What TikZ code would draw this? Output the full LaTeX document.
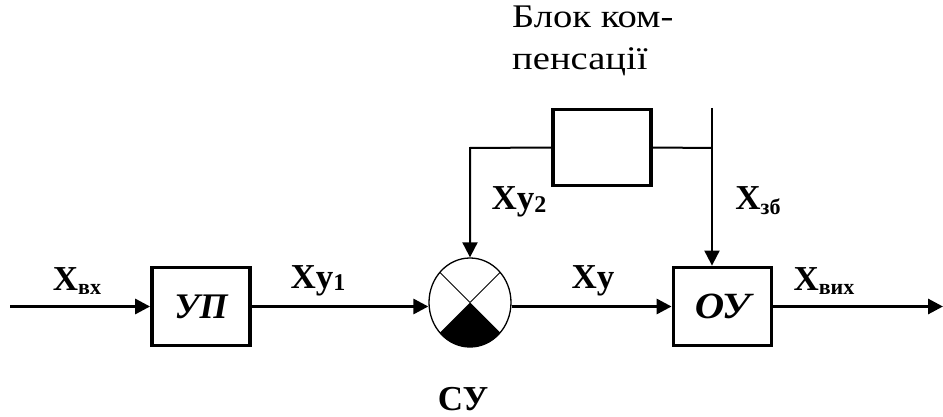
\documentclass[tikz,border=0pt]{standalone}
\usepackage{fontspec}
\setmainfont{Liberation Serif}
\usetikzlibrary{arrows.meta,shapes.geometric}
\begin{document}
\begin{tikzpicture}[x=1pt,y=-1pt,
  blk/.style={draw,line width=3.8pt,minimum width=98pt,minimum height=78pt,inner sep=0pt},
  conn/.style={line width=3pt},
  thin/.style={line width=2pt},
  arr/.style={-{Triangle[length=15pt,width=15pt]}},
  lbl/.style={font=\fontsize{35}{35}\selectfont\bfseries,inner sep=0pt,anchor=base},
  ttl/.style={font=\fontsize{33}{33}\selectfont,inner sep=0pt,anchor=base west}]
\useasboundingbox (0,0) rectangle (943,417);
% blocks
\node[blk] (up) at (201,306.5) {\fontsize{36}{36}\selectfont\bfseries\itshape УП};
\node[blk] (ou) at (722.5,306.5) {\fontsize{37}{37}\selectfont\bfseries\itshape\scalebox{1.1}[1]{ОУ}};
\node[blk,minimum height=76pt] (komp) at (602,147.5) {};
% summing junction
\coordinate (sc) at (470,302.5);
\node[ellipse,draw,line width=1.3pt,minimum width=82pt,minimum height=89pt,inner sep=0pt] (sum) at (sc) {};
\begin{scope}
  \clip (sc) ellipse [x radius=41, y radius=44.5];
  \fill (sc) -- ++(60,60) -- ++(-120,0) -- cycle;
  \draw[line width=1pt] (sc) -- ++(-60,-60) (sc) -- ++(60,-60);
\end{scope}
% free ends
\coordinate (in) at (10,306.5);
\coordinate (out) at (943,306.5);
\coordinate (top) at (712,108);
\coordinate (tj) at (712,148);
\coordinate (lc) at (470,148);
% connectors
\draw[conn,arr] (in) -- (up.west);
\draw[conn,arr] (up.east) -- (up.east -| sum.west);
\draw[conn,arr] (sum.east |- ou.west) -- (ou.west);
\draw[conn,arr] (ou.east) -- (out);
\draw[thin] (top) -- (tj);
\draw[thin,arr] (tj) -- (tj |- ou.north);
\draw[thin] (komp.east) -- (tj);
\draw[thin,arr] (komp.west) -- (lc) -- (sum.north);
% labels
\node[lbl] (lvx) at (77,290) {X\raisebox{-0.12em}{\fontsize{22}{22}\selectfont вх}};
\node[lbl] (ly1) at (318,288) {Xу\raisebox{-0.08em}{\fontsize{24}{24}\selectfont 1}};
\node[lbl] (ly) at (593,288) {Xу};
\node[lbl] (lvyh) at (824,290) {X\raisebox{-0.12em}{\fontsize{22}{22}\selectfont вих}};
\node[lbl] (ly2) at (519,210) {Xу\raisebox{-0.08em}{\fontsize{24}{24}\selectfont 2}};
\node[lbl] (lzb) at (758,210) {X\raisebox{-0.12em}{\fontsize{22}{22}\selectfont зб}};
\node[lbl] (lsu) at (463,410) {СУ};
\node[ttl] (title1) at (512,28) {\scalebox{1.17}[1]{Блок ком-}};
\node[ttl] (title2) at (512,70) {\scalebox{1.17}[1]{пенсації}};
\end{tikzpicture}
\end{document}
